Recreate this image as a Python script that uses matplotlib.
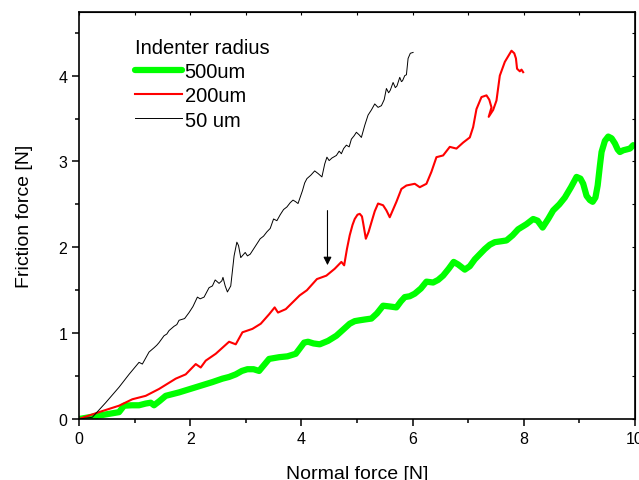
import numpy as np
import matplotlib
matplotlib.use("Agg")
import matplotlib.pyplot as plt
from matplotlib.ticker import MultipleLocator

plt.rcParams['font.family'] = ['Liberation Sans', 'DejaVu Sans']

# 500um indenter (green)
x_500 = [0.0, 0.36, 0.72, 0.81, 0.95, 1.08, 1.20, 1.29, 1.35, 1.45, 1.56, 1.68, 1.80, 1.95,
         2.10, 2.25, 2.40, 2.58, 2.70, 2.82, 2.93, 3.03, 3.14, 3.24, 3.33, 3.42, 3.60,
         3.75, 3.90, 3.97, 4.05, 4.12, 4.22, 4.33, 4.48, 4.63, 4.75, 4.87, 4.96, 5.05,
         5.15, 5.26, 5.36, 5.47, 5.60, 5.71, 5.79, 5.86, 5.95, 6.04, 6.15, 6.25, 6.37,
         6.46, 6.55, 6.65, 6.74, 6.82, 6.94, 7.03, 7.12, 7.21, 7.30, 7.39, 7.48, 7.59,
         7.69, 7.80, 7.90, 8.05, 8.17, 8.25, 8.34, 8.44, 8.53, 8.64, 8.74, 8.85, 8.95,
         9.02, 9.07, 9.13, 9.19, 9.24, 9.29, 9.33, 9.37, 9.40, 9.46, 9.52, 9.58, 9.64,
         9.69, 9.73, 9.79, 9.85, 9.91, 9.97]
y_500 = [0.0, 0.04, 0.08, 0.155, 0.16, 0.16, 0.18, 0.19, 0.16, 0.21, 0.27, 0.29, 0.31, 0.34,
         0.37, 0.40, 0.43, 0.47, 0.49, 0.52, 0.56, 0.58, 0.58, 0.56, 0.63, 0.70, 0.72,
         0.73, 0.76, 0.82, 0.89, 0.90, 0.88, 0.87, 0.91, 0.97, 1.04, 1.11, 1.14, 1.15,
         1.16, 1.17, 1.23, 1.32, 1.31, 1.30, 1.37, 1.42, 1.43, 1.46, 1.52, 1.60, 1.59,
         1.62, 1.67, 1.75, 1.83, 1.80, 1.74, 1.78, 1.86, 1.92, 1.98, 2.03, 2.06, 2.07,
         2.08, 2.14, 2.21, 2.27, 2.33, 2.31, 2.23, 2.33, 2.43, 2.50, 2.58, 2.70, 2.82,
         2.80, 2.74, 2.60, 2.55, 2.53, 2.58, 2.72, 2.95, 3.11, 3.24, 3.29, 3.27, 3.21,
         3.14, 3.11, 3.13, 3.14, 3.15, 3.19]

# 200um indenter (red)
x_200 = [0.0, 0.36, 0.72, 0.96, 1.20, 1.44, 1.74, 1.92, 2.10, 2.19, 2.28, 2.46, 2.70, 2.82,
         2.94, 3.12, 3.27, 3.42, 3.52, 3.58, 3.72, 3.97, 4.10, 4.28, 4.45, 4.60, 4.72,
         4.77, 4.82, 4.87, 4.92, 4.96, 5.01, 5.05, 5.09, 5.11, 5.16, 5.21, 5.26, 5.32,
         5.38, 5.47, 5.53, 5.59, 5.65, 5.71, 5.80, 5.89, 6.04, 6.13, 6.25, 6.34, 6.43,
         6.55, 6.67, 6.79, 6.91, 7.03, 7.09, 7.15, 7.24, 7.33, 7.38, 7.42, 7.37, 7.45,
         7.51, 7.57, 7.66, 7.78, 7.83, 7.86, 7.88, 7.93, 7.96, 7.99]
y_200 = [0.0, 0.08, 0.155, 0.23, 0.27, 0.35, 0.47, 0.52, 0.64, 0.60, 0.68, 0.76, 0.90, 0.87,
         1.01, 1.05, 1.11, 1.22, 1.30, 1.24, 1.28, 1.44, 1.50, 1.63, 1.67, 1.75, 1.83,
         1.79, 1.98, 2.14, 2.26, 2.33, 2.38, 2.39, 2.36, 2.29, 2.10, 2.18, 2.29, 2.42,
         2.51, 2.49, 2.43, 2.35, 2.44, 2.53, 2.68, 2.72, 2.74, 2.70, 2.74, 2.88, 3.05,
         3.07, 3.17, 3.15, 3.22, 3.28, 3.40, 3.61, 3.75, 3.77, 3.72, 3.63, 3.52, 3.60,
         3.71, 4.00, 4.16, 4.29, 4.26, 4.20, 4.08, 4.05, 4.07, 4.04]

# 50um indenter (black)
x_50 = [0.0, 0.24, 0.48, 0.72, 0.90, 1.08, 1.14, 1.26, 1.35, 1.40, 1.44, 1.53, 1.58, 1.62,
        1.71, 1.76, 1.80, 1.90, 1.98, 2.05, 2.13, 2.18, 2.25, 2.34, 2.40, 2.45, 2.52,
        2.57, 2.59, 2.63, 2.67, 2.73, 2.79, 2.84, 2.87, 2.91, 2.99, 3.03, 3.08, 3.17,
        3.22, 3.26, 3.32, 3.38, 3.44, 3.50, 3.56, 3.62, 3.68, 3.74, 3.80, 3.85, 3.90,
        3.94, 4.02, 4.06, 4.10, 4.17, 4.24, 4.30, 4.37, 4.42, 4.46, 4.50, 4.55, 4.63,
        4.68, 4.72, 4.76, 4.81, 4.86, 4.90, 4.95, 4.99, 5.04, 5.08, 5.14, 5.20, 5.26,
        5.32, 5.38, 5.44, 5.49, 5.53, 5.57, 5.60, 5.65, 5.69, 5.72, 5.77, 5.80, 5.82,
        5.86, 5.89, 5.92, 5.96, 6.01]
y_50 = [0.0, 0.02, 0.19, 0.37, 0.52, 0.66, 0.64, 0.78, 0.83, 0.86, 0.89, 0.97, 0.99, 1.03,
        1.08, 1.10, 1.15, 1.17, 1.24, 1.31, 1.42, 1.40, 1.42, 1.53, 1.55, 1.62, 1.58,
        1.61, 1.65, 1.55, 1.48, 1.55, 1.90, 2.06, 2.02, 1.88, 1.94, 1.90, 1.92, 2.01,
        2.06, 2.10, 2.13, 2.18, 2.22, 2.33, 2.31, 2.38, 2.44, 2.47, 2.52, 2.55, 2.53,
        2.51, 2.66, 2.75, 2.80, 2.84, 2.89, 2.86, 2.82, 2.97, 3.05, 3.01, 3.04, 3.07,
        3.12, 3.09, 3.15, 3.19, 3.17, 3.26, 3.30, 3.34, 3.31, 3.28, 3.42, 3.54, 3.60,
        3.67, 3.63, 3.65, 3.72, 3.85, 3.80, 3.83, 3.92, 3.86, 3.88, 3.98, 3.93, 3.94,
        4.00, 4.01, 4.20, 4.26, 4.27]

fig = plt.figure(figsize=(6.39, 4.81), dpi=100)
ax = fig.add_axes([0.1236, 0.1268, 0.870, 0.846])

ax.plot(x_500, y_500, color='#00ff00', lw=4.5, solid_capstyle='round',
        solid_joinstyle='round', label='500um')
ax.plot(x_200, y_200, color='#ff0000', lw=1.5, solid_joinstyle='round', label='200um')
ax.plot(x_50, y_50, color='black', lw=0.7, label='50 um')

# arrow marking the point of interest on the 200um curve
ax.annotate('', xy=(4.47, 1.76), xytext=(4.47, 2.46),
            arrowprops=dict(arrowstyle='-|>', color='black', lw=0.8, mutation_scale=12))

ax.set_xlim(0, 10)
ax.set_ylim(0, 4.74)
ax.xaxis.set_major_locator(MultipleLocator(2))
ax.xaxis.set_minor_locator(MultipleLocator(1))
ax.yaxis.set_major_locator(MultipleLocator(1))
ax.yaxis.set_minor_locator(MultipleLocator(0.5))
ax.tick_params(which='major', direction='out', length=5, width=1.1, labelsize=11.5)
ax.tick_params(which='minor', direction='out', length=3, width=1.1)
for s in ax.spines.values():
    s.set_linewidth(1.2)

sx = ax.secondary_xaxis('top')
sx.xaxis.set_major_locator(MultipleLocator(1))
sx.tick_params(direction='in', length=2, labeltop=False)
sy = ax.secondary_yaxis('right')
sy.yaxis.set_major_locator(MultipleLocator(0.5))
sy.tick_params(direction='in', length=2, labelright=False)

ax.set_xlabel('Normal force [N]', fontsize=14, labelpad=14)
ax.set_ylabel('Friction force [N]', fontsize=14, labelpad=18)

leg = ax.legend(title='Indenter radius', loc='upper left', bbox_to_anchor=(0.083, 0.96),
                frameon=False, fontsize=14.5, title_fontsize=14.5, handlelength=2.3,
                handletextpad=0.15, labelspacing=0.25, borderpad=0, alignment='left')

fig.savefig('out.png', dpi=100)
